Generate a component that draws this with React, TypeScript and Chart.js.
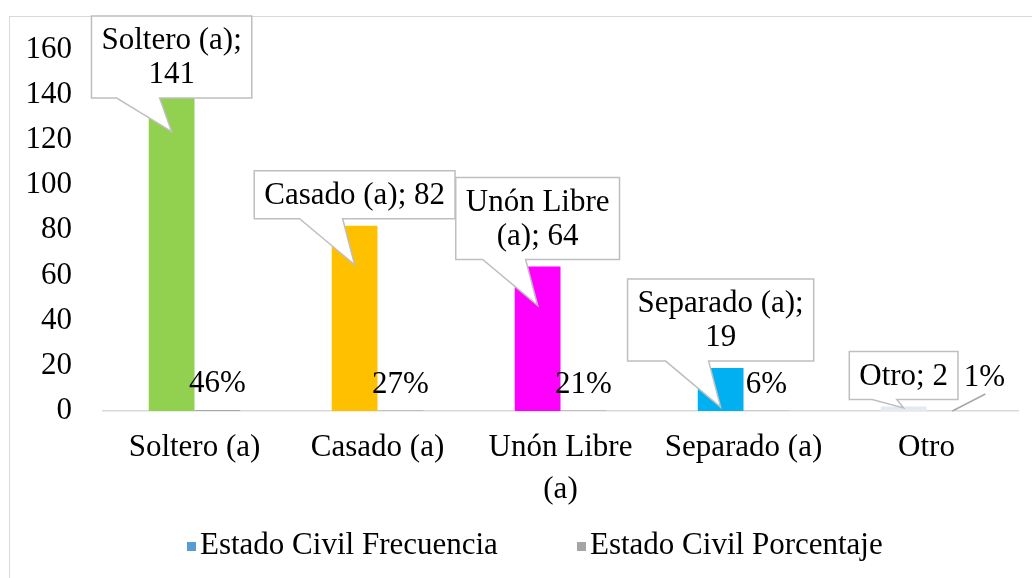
import React, { useEffect, useRef } from "react";
import { Chart, registerables } from "chart.js";

Chart.register(...registerables);

// ---- data ----
const categories: (string | string[])[] = ["Soltero (a)", "Casado (a)", ["Unón Libre", "(a)"], "Separado (a)", "Otro"];
const calloutNames = ["Soltero (a)", "Casado (a)", "Unón Libre (a)", "Separado (a)", "Otro"];
const frecuencia = [141, 82, 64, 19, 2];
const porcentaje = [0.46, 0.27, 0.21, 0.06, 0.01];
const yTicks = [0, 20, 40, 60, 80, 100, 120, 140, 160];
const seriesNames = ["Estado Civil Frecuencia", "Estado Civil Porcentaje"];

// ---- styles ----
const barColors = ["#92D050", "#FFC000", "#FF00FF", "#00B0F0", "#E4EAF4"];
const legendColors = ["#5B9BD5", "#A5A5A5"];
const FONT = "'Liberation Serif', 'Times New Roman', serif";
const FS = 31;
// percentage-label displacement (Excel moved the last one with a leader line)
const pctLabelShift: [number, number][] = [[0, 0], [0, 0], [0, 0], [0, 0], [35, -7]];

function wrap(c: CanvasRenderingContext2D, text: string, maxW: number): string[] {
  const words = text.split(" ");
  const lines: string[] = [];
  let cur = "";
  for (const w of words) {
    const t = cur ? cur + " " + w : w;
    if (c.measureText(t).width > maxW && cur) {
      lines.push(cur);
      cur = w;
    } else cur = t;
  }
  if (cur) lines.push(cur);
  return lines;
}

export default function App() {
  const ref = useRef<HTMLCanvasElement>(null);

  useEffect(() => {
    const canvas = ref.current!;
    const decorations = {
      id: "decorations",
      beforeDraw(chart: any) {
        const c = chart.ctx;
        c.save();
        c.fillStyle = "#ffffff";
        c.fillRect(0, 0, chart.width, chart.height);
        c.strokeStyle = "#d9d9d9";
        c.lineWidth = 1;
        c.strokeRect(9.5, 16.5, 1100, 700);
        c.restore();
      },
      afterDatasetsDraw(chart: any) {
        const c = chart.ctx as CanvasRenderingContext2D;
        const area = chart.chartArea;
        const base = chart.scales.y.getPixelForValue(0);
        c.save();
        c.font = `${FS}px ${FONT}`;
        c.textAlign = "center";
        c.textBaseline = "middle";

        // percentage labels
        const metaP = chart.getDatasetMeta(1);
        metaP.data.forEach((bar: any, i: number) => {
          const [dx, dy] = pctLabelShift[i];
          const x = bar.x + dx;
          const y = bar.y - 26 + dy;
          if (dx !== 0 || dy !== 0) {
            c.strokeStyle = "#a6a6a6";
            c.lineWidth = 1.5;
            c.beginPath();
            c.moveTo(bar.x + 3, bar.y);
            c.lineTo(x + 1, y + 16);
            c.stroke();
          }
          c.fillStyle = "#000";
          c.fillText(Math.round(porcentaje[i] * 100) + "%", x, y);
        });

        // callouts for frequency
        const metaF = chart.getDatasetMeta(0);
        const lineH = 34;
        metaF.data.forEach((bar: any, i: number) => {
          const text = `${calloutNames[i]}; ${frecuencia[i]}`;
          const lines = wrap(c, text, FS * 5.95);
          const tw = Math.max(...lines.map((l) => c.measureText(l).width));
          const bw = tw + 20;
          const bh = lines.length * lineH + 14;
          const cx = bar.x;
          let bottom = bar.y - 7;
          let top = bottom - bh;
          if (top < 16) {
            top = 16;
            bottom = top + bh;
          }
          const left = cx - bw / 2;
          const tipY = Math.min(bar.y + 39, base - 3);
          const h = tipY - bottom;
          const bl = cx - Math.min(55, h * 3.7);
          const br = cx - Math.min(12, h * 0.8);
          c.beginPath();
          c.moveTo(left, top);
          c.lineTo(left + bw, top);
          c.lineTo(left + bw, bottom);
          c.lineTo(br, bottom);
          c.lineTo(cx, tipY);
          c.lineTo(bl, bottom);
          c.lineTo(left, bottom);
          c.closePath();
          c.fillStyle = "#ffffff";
          c.fill();
          c.strokeStyle = "#bfbfbf";
          c.lineWidth = 1.5;
          c.stroke();
          c.fillStyle = "#000";
          lines.forEach((l, k) => {
            c.fillText(l, cx, top + 7 + lineH * k + lineH / 2 + 1);
          });
        });
        c.restore();
      },
      afterDraw(chart: any) {
        const c = chart.ctx as CanvasRenderingContext2D;
        c.save();
        c.font = `${FS}px ${FONT}`;
        c.textBaseline = "middle";
        c.textAlign = "left";
        const starts = [187, 577];
        const ly = 546;
        seriesNames.forEach((name, i) => {
          c.fillStyle = legendColors[i];
          c.fillRect(starts[i], ly - 4, 9, 9);
          c.fillStyle = "#000";
          c.fillText(name, starts[i] + 13, ly);
        });
        c.restore();
      },
    };

    const chart = new Chart(canvas, {
      type: "bar",
      data: {
        labels: categories as any,
        datasets: [
          {
            label: seriesNames[0],
            data: frecuencia,
            backgroundColor: barColors,
            categoryPercentage: 0.5,
            barPercentage: 1,
          },
          {
            label: seriesNames[1],
            data: porcentaje,
            backgroundColor: legendColors[1],
            categoryPercentage: 0.5,
            barPercentage: 1,
          },
        ],
      },
      options: {
        animation: false,
        responsive: false,
        maintainAspectRatio: false,
        layout: { padding: { left: 10, right: 14, top: 46, bottom: 67 } },
        plugins: {
          legend: { display: false },
          tooltip: { enabled: false },
        },
        scales: {
          x: {
            grid: { display: false, drawTicks: false },
            border: { display: true, color: "#d9d9d9", width: 1.5 },
            ticks: {
              color: "#000",
              font: { family: FONT, size: FS, lineHeight: 1.35 },
              padding: 16,
              maxRotation: 0,
              autoSkip: false,
            },
            afterFit: (s: any) => {
              s.height = 100;
            },
          },
          y: {
            min: 0,
            max: 160,
            afterBuildTicks: (s: any) => {
              s.ticks = yTicks.map((v) => ({ value: v }));
            },
            grid: { display: false, drawTicks: false },
            border: { display: false },
            ticks: {
              color: "#000",
              font: { family: FONT, size: FS },
              padding: 31,
            },
            afterFit: (s: any) => {
              s.width = 93;
            },
          },
        },
      },
      plugins: [decorations],
    });
    return () => chart.destroy();
  }, []);

  return (
    <div style={{ position: "absolute", left: 0, top: 0, width: 1032, height: 578 }}>
      <canvas ref={ref} width={1032} height={578} style={{ width: 1032, height: 578, display: "block" }} />
    </div>
  );
}
